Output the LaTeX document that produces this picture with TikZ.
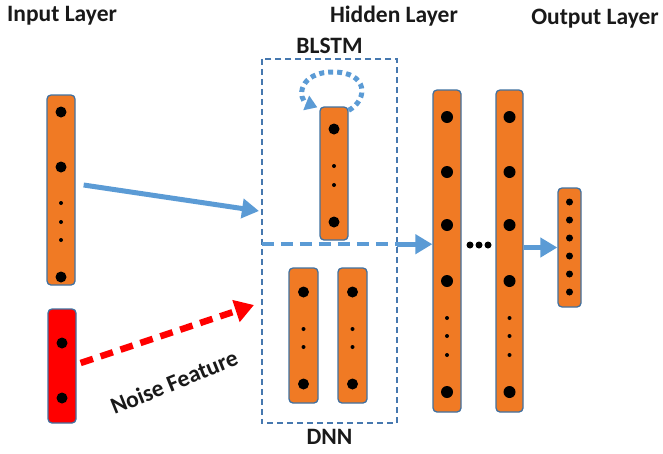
\documentclass[tikz,border=0pt]{standalone}
\usepackage{fontspec}
\setmainfont{Carlito}
\usetikzlibrary{positioning,arrows.meta,calc}
\definecolor{barorange}{RGB}{240,122,36}
\definecolor{barblue}{RGB}{65,113,160}
\definecolor{arrowblue}{RGB}{91,155,213}
\definecolor{boxblue}{RGB}{70,120,175}
\definecolor{noisered}{RGB}{255,0,0}
\tikzstyle{bar}=[rectangle,rounded corners=4pt,draw=barblue,line width=1.3pt,fill=barorange,inner sep=0pt]
\tikzstyle{noisebar}=[bar,fill=noisered]
\tikzstyle{layertext}=[font=\bfseries\fontsize{23.5}{26}\selectfont,text=black!90,inner sep=0pt]
\tikzstyle{flow}=[draw=arrowblue,line width=5pt,-{Triangle[length=17pt,width=19pt]}]
\tikzstyle{noiseflow}=[draw=noisered,line width=6.5pt,dash pattern=on 13pt off 8pt,-{Triangle[length=19pt,width=22pt]}]
\tikzstyle{groupbox}=[draw=boxblue,line width=1.6pt,dash pattern=on 6pt off 4pt]
\tikzstyle{splitline}=[draw=arrowblue,line width=3.5pt,dash pattern=on 12pt off 7pt]
\tikzstyle{selfloop}=[draw=arrowblue,line width=5pt,dash pattern=on 5pt off 4pt,-{Triangle[length=12pt,width=15pt]}]

\begin{document}
\begin{tikzpicture}[x=1pt,y=-1pt]
  \useasboundingbox (0,0) rectangle (663,453);

  % layer bars
  \foreach \pos / \w / \h / \name in {{(61,190)/28/190/inp}, {(334,173.5)/28/133/lstm},
                                      {(303.5,335.5)/29/135/dnnA}, {(352.5,335.5)/29/135/dnnB},
                                      {(447,251)/28/322/hidA}, {(509.5,251)/27/322/hidB},
                                      {(569.5,247.5)/23/119/outp}}
    \node[bar,minimum width=\w pt,minimum height=\h pt] (\name) at \pos {};
  \node[noisebar,minimum width=28pt,minimum height=114pt] (noise) at (62,366) {};

  % neurons
  \foreach \x / \y in {61/112, 61/167, 61/277, 62/343, 62/398, 334/129, 334/222,
                       303.5/292, 303.5/384, 352.5/292, 352.5/384}
    \fill (\x,\y) circle (5.5pt);
  \foreach \x in {447,509.5}
    \foreach \y in {117,172,225,281,392}
      \fill (\x,\y) circle (6pt);
  \foreach \x / \y in {61/203, 61/222, 61/240, 334/166, 334/185,
                       303.5/329, 303.5/347, 352.5/329, 352.5/347}
    \fill (\x,\y) circle (2pt);
  \foreach \x in {447,509.5}
    \foreach \y in {318,336,355}
      \fill (\x,\y) circle (2pt);
  \foreach \y in {202,220,238,256,274,292}
    \fill (569.5,\y) circle (3.5pt);
  \foreach \x in {470,479,488}
    \fill (\x,245) circle (3.5pt);

  % hidden groups
  \node[minimum width=135pt,minimum height=185pt,inner sep=0pt] (blstm) at (329.5,151.5) {};
  \node[minimum width=135pt,minimum height=179pt,inner sep=0pt] (dnn) at (329.5,333.5) {};
  \draw[groupbox] (blstm.north west) rectangle (dnn.south east);
  \path[splitline] (blstm.south west) -- (blstm.south east);
  \node[layertext] (blstmtext) [above=5pt of blstm] {BLSTM};
  \node[layertext] (dnntext) [below=6pt of dnn] {DNN};

  % recurrent loop
  \coordinate (looptop) at (333,72);
  \path[selfloop] ([shift={(0,4)}]lstm.north east) .. controls +(20,-11) and +(35,0) .. (looptop)
    .. controls +(-35,0) and +(-20,-8) .. ([shift={(-2,1)}]lstm.north west);

  % connections
  \coordinate (lstmin) at (259,211);
  \coordinate (dnnin) at (254,305);
  \path[flow] ([shift={(8,-5)}]inp.east) -- (lstmin);
  \path[noiseflow] ([shift={(4,-3)}]noise.east) -- (dnnin);
  \path[flow] (blstm.south east) -- (blstm.south east -| hidA.west);
  \path[flow] (hidB.east |- outp.west) -- (outp.west);

  % layer titles
  \node[layertext,anchor=west] (inptext) at (7,16) {Input Layer};
  \node[layertext] (hidtext) at (394,16) {Hidden Layer};
  \node[layertext] (outtext) at (595,19) {Output Layer};
  \node[layertext,rotate=22] (noisetext) at (174,382) {Noise Feature};
\end{tikzpicture}
\end{document}
